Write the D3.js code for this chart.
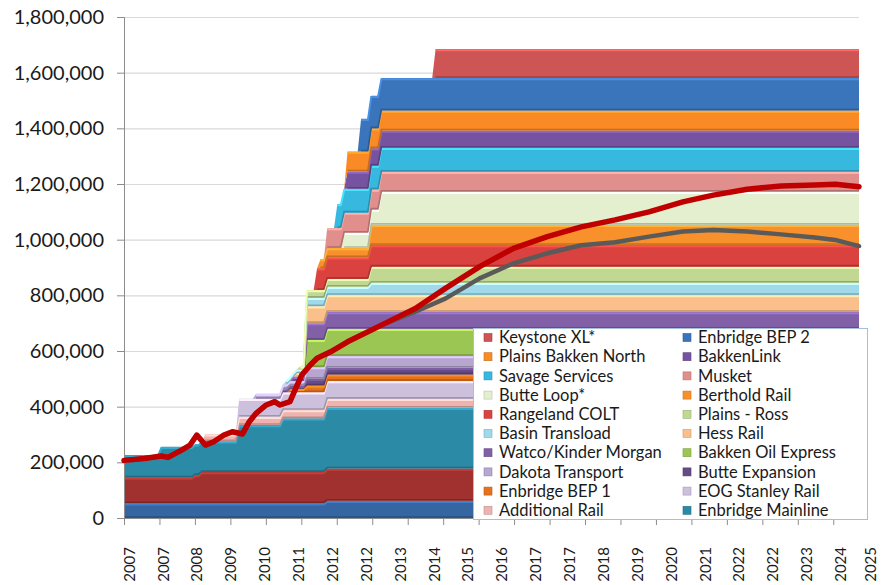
<!DOCTYPE html>
<html>
<head>
<meta charset="utf-8">
<script src="https://cdn.jsdelivr.net/npm/d3@7"></script>
<style>
  body { margin: 0; background: #fff; }
  svg { display: block; font-family: Lato, "Open Sans", sans-serif; }
</style>
</head>
<body>
<script>
// DATA
// months counted from Jan 2007; each capacity series is a list of [month, bpd] steps
const tesoroMandan      = [[0, 53000], [60, 62000]];
const buttePipeline     = [[0, 92000], [21, 101000], [23, 112000], [60, 116000]];
const enbridgeMainline  = [[0, 81000], [11, 111000], [34, 169000], [47, 193000], [60, 218000]];
const additionalRail    = [[24, 25000], [34, 30000], [60, 32000]];
const eogStanleyRail    = [[34, 64000]];
const enbridgeBep1      = [[49, 12000], [54, 24000]];
const butteExpansion    = [[47, 10000], [54, 24000]];
const dakotaTransport   = [[39, 18000], [54, 42000]];
const bakkenOilExpress  = [[54, 98000]];
const watcoKinderMorgan = [[50, 16000], [54, 60000]];
const hessRail          = [[51, 12000], [54, 61000]];
const basinTransload    = [[48, 14000], [54, 30000], [73, 44000]];
const plainsRoss        = [[52, 10000], [54, 28000], [73, 58000]];
const rangelandColt     = [[57, 78000]];
const bertholdRail      = [[58, 33000], [73, 72000]];
const butteLoop         = [[65, 55000], [76, 119000]];
const musket            = [[60, 72000]];
const savageServices    = [[63, 86000]];
const bakkenLink        = [[66, 62000]];
const plainsBakkenNorth = [[66, 72000]];
const enbridgeBep2      = [[70, 117000]];
const keystoneXL        = [[92, 104000]];

// bottom of the stack first
const seriesNames = [
	"Tesoro Mandan", "Butte Pipeline", "Enbridge Mainline", "Additional Rail", "EOG Stanley Rail",
	"Enbridge BEP 1", "Butte Expansion", "Dakota Transport", "Bakken Oil Express", "Watco/Kinder Morgan",
	"Hess Rail", "Basin Transload", "Plains - Ross", "Rangeland COLT", "Berthold Rail",
	"Butte Loop*", "Musket", "Savage Services", "BakkenLink", "Plains Bakken North",
	"Enbridge BEP 2", "Keystone XL*"
];
const seriesSteps = [
	tesoroMandan, buttePipeline, enbridgeMainline, additionalRail, eogStanleyRail,
	enbridgeBep1, butteExpansion, dakotaTransport, bakkenOilExpress, watcoKinderMorgan,
	hessRail, basinTransload, plainsRoss, rangelandColt, bertholdRail,
	butteLoop, musket, savageServices, bakkenLink, plainsBakkenNorth,
	enbridgeBep2, keystoneXL
];
// the two lowest series are not shown in the legend
const hiddenInLegend = ["Tesoro Mandan", "Butte Pipeline"];

// production forecast lines
const forecastMonths = [0, 6, 11, 13, 17, 19.5, 21.5, 24, 26.5, 29.5, 32, 35, 37, 39, 42, 44.5, 46, 49, 50.5, 52.5,
	55, 57, 61, 66, 76, 86, 95, 105, 115, 125, 135, 145, 155, 165, 174, 184, 194, 204, 210, 217];
const forecastHigh = [207000, 214000, 223000, 218000, 244000, 262000, 298000, 262000, 274000, 298000, 310000, 302000,
	346000, 376000, 406000, 418000, 406000, 418000, 460000, 514000, 550000, 574000, 597000, 633000, 693000,
	753000, 826000, 903000, 969000, 1011000, 1046000, 1071000, 1100000, 1136000, 1160000, 1181000, 1193000,
	1196000, 1199000, 1190000];
const forecastLow = [207000, 214000, 223000, 218000, 244000, 262000, 298000, 262000, 274000, 298000, 310000, 302000,
	346000, 376000, 406000, 418000, 406000, 418000, 460000, 514000, 550000, 574000, 597000, 633000, 693000,
	741000, 789000, 861000, 915000, 951000, 980000, 991000, 1011000, 1029000, 1035000, 1029000, 1019000,
	1008000, 999000, 977000];

const yearLabels = ["2007", "2007", "2008", "2009", "2010", "2011", "2012", "2012", "2013", "2014", "2015",
	"2016", "2017", "2017", "2018", "2019", "2020", "2021", "2022", "2022", "2023", "2024", "2025"];
const yTicks = [0, 200000, 400000, 600000, 800000, 1000000, 1200000, 1400000, 1600000, 1800000];

// STYLES
const seriesColors = [
	"#3566a2", "#a0312f", "#2b8aa6", "#eeb3ae", "#cdc0dd",
	"#e4731c", "#654c86", "#b7a6cf", "#9cc653", "#8260a8",
	"#fbbf8c", "#9fd9ea", "#c0d892", "#d9423f", "#f8912b",
	"#e3efcf", "#e08f8c", "#37b8df", "#7653a0", "#f98a25",
	"#3a74ba", "#cd5553"
];


// CHART
const W = 881, H = 585;
const plot = {left: 124, right: 859, top: 17, bottom: 518};
const lastMonth = 217;

const svg = d3.select("body").append("svg")
	.attr("width", W)
	.attr("height", H)
	.style("background", "#fff");

const x = d3.scaleLinear().domain([0, lastMonth]).range([plot.left, plot.right]);
const y = d3.scaleLinear().domain([0, 1800000]).range([plot.bottom, plot.top]);

// capacity in place at a month
const capAt = (steps, m) => {
	let v = 0;
	steps.forEach(([s, c]) => { if (s <= m) v = c; });
	return v;
};
const rows = d3.range(0, lastMonth + 1).map(m => {
	const row = {month: m};
	seriesNames.forEach((name, i) => row[name] = capAt(seriesSteps[i], m));
	return row;
});
const stacked = d3.stack().keys(seriesNames)(rows);

// gridlines
svg.append("g")
	.attr("class", "grid")
	.attr("transform", `translate(${plot.left},0)`)
	.call(d3.axisLeft(y).tickValues(yTicks).tickSize(-(plot.right - plot.left)).tickFormat(""))
	.call(g => g.select(".domain").remove())
	.call(g => g.selectAll("line").attr("stroke", "#d9d9d9").attr("stroke-width", 1.2));

// areas
const area = d3.area()
	.x(d => x(d.data.month))
	.y0(d => y(d[0]))
	.y1(d => y(d[1]));
const topEdge = d3.line()
	.defined(d => d[1] - d[0] > 0)
	.x(d => x(d.data.month))
	.y(d => y(d[1]) + 1.2);
const bottomEdge = d3.line()
	.defined(d => d[1] - d[0] > 0)
	.x(d => x(d.data.month))
	.y(d => y(d[0]) - 1);

const layers = svg.append("g").selectAll("g")
	.data(stacked)
	.enter()
	.append("g");
layers.append("path")
	.attr("d", area)
	.attr("fill", (d, i) => seriesColors[i]);
layers.append("path")
	.attr("d", bottomEdge)
	.attr("fill", "none")
	.attr("stroke", (d, i) => d3.color(seriesColors[i]).darker(0.7))
	.attr("stroke-width", 1.6);
layers.append("path")
	.attr("d", topEdge)
	.attr("fill", "none")
	.attr("stroke", (d, i) => d3.color(seriesColors[i]).brighter(0.6))
	.attr("stroke-width", 2);

// axes
svg.append("g")
	.attr("transform", `translate(${plot.left},0)`)
	.call(d3.axisLeft(y).tickValues(yTicks).tickSize(7).tickPadding(13).tickFormat(d3.format(",")))
	.call(g => g.selectAll("line, path").attr("stroke", "#8c8c8c"))
	.call(g => g.selectAll("text").attr("font-size", 20).attr("fill", "#1a1a1a").attr("font-family", "Lato"));

svg.append("g")
	.attr("transform", `translate(0,${plot.bottom})`)
	.call(d3.axisBottom(x).tickValues(d3.range(0, lastMonth, 10.47)).tickSize(7).tickSizeOuter(0).tickFormat(""))
	.call(g => g.selectAll("line, path").attr("stroke", "#8c8c8c"));

svg.append("g")
	.attr("transform", `translate(0,${plot.bottom})`)
	.call(d3.axisBottom(x).tickValues(d3.range(0, 221, 10)).tickSize(0).tickFormat((d, i) => yearLabels[i]))
	.call(g => g.select(".domain").remove())
	.call(g => g.selectAll("text")
		.attr("font-size", 15)
		.attr("font-family", "Lato")
		.attr("fill", "#1a1a1a")
		.attr("text-anchor", "end")
		.attr("x", 0).attr("y", 0).attr("dy", "0.35em")
		// last label nudged in so it stays inside the picture
		.attr("transform", (d, i) => `translate(${i === yearLabels.length - 1 ? 1.5 : 5},29) rotate(-90)`));

// forecast lines
const line = vals => d3.line()
	.x((d, i) => x(forecastMonths[i]))
	.y(d => y(d))(vals);
svg.append("path")
	.attr("d", line(forecastLow))
	.attr("fill", "none")
	.attr("stroke", "#5a5a5a")
	.attr("stroke-width", 4.5)
	.attr("stroke-linejoin", "round")
	.attr("stroke-linecap", "round");
svg.append("path")
	.attr("d", line(forecastHigh))
	.attr("fill", "none")
	.attr("stroke", "#c00000")
	.attr("stroke-width", 5.5)
	.attr("stroke-linejoin", "round")
	.attr("stroke-linecap", "round");

// legend
const legendItems = seriesNames
	.map((name, i) => ({name, color: seriesColors[i]}))
	.filter(d => !hiddenInLegend.includes(d.name))
	.reverse();
const legend = svg.append("g");
legend.append("rect")
	.attr("x", 473.5).attr("y", 328.5)
	.attr("width", 394).attr("height", 191)
	.attr("fill", "#fff")
	.attr("stroke", "#a9bfd8");
const item = legend.selectAll(".item")
	.data(legendItems)
	.enter()
	.append("g")
	.attr("class", "item")
	.attr("transform", (d, i) => `translate(${i % 2 ? 683 : 484},${337.5 + Math.floor(i / 2) * 19.2})`);
item.append("rect")
	.attr("x", 0).attr("y", -4)
	.attr("width", 8).attr("height", 8)
	.attr("fill", d => d.color)
	.attr("stroke", d => d3.color(d.color).darker(0.6))
	.attr("stroke-width", 0.6);
item.append("text")
	.attr("x", 15)
	.attr("dy", "0.35em")
	.attr("font-size", 16.5)
	.attr("fill", "#1a1a1a")
	.text(d => d.name);
</script>
</body>
</html>
